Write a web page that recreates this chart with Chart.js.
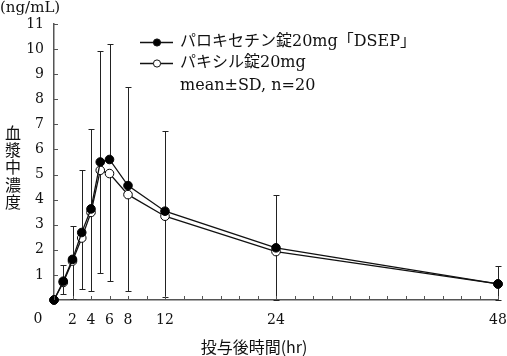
<!DOCTYPE html>
<html><head><meta charset="utf-8">
<script src="https://cdn.jsdelivr.net/npm/chart.js@4/dist/chart.umd.min.js"></script>
<style>html,body{margin:0;padding:0;background:#fff;}#wrap{width:507px;height:356px;position:relative;}</style>
</head><body><div id="wrap"><canvas id="c"></canvas></div>
<script>
// ---- data ----
const times = [0, 1, 2, 3, 4, 5, 6, 8, 12, 24, 48];
const dsepMean  = [0, 0.75, 1.62, 2.69, 3.63, 5.50, 5.60, 4.56, 3.54, 2.08, 0.64];
const paxilMean = [0, 0.70, 1.55, 2.47, 3.49, 5.17, 5.04, 4.20, 3.34, 1.93, 0.64];
const dsepUpper  = [0, 1.40, 2.93, 5.20, 6.80, 9.93, 10.20, 8.47, 6.72, 4.17, 1.37]; // mean + SD
const paxilLower = [0, 0.22, 0.03, 0.43, 0.37, 1.08, 0.76, 0.36, 0.10, 0, 0];       // mean - SD (clipped at 0)
const xTickMarks = [0,2,4,6,8,10,12,14,16,18,20,22,24,26,28,30,32,34,36,38,40,42,44,46,48];
const xTickLabels = [2, 4, 6, 8, 12, 24, 48];
const yTickValues = [1,2,3,4,5,6,7,8,9,10,11];
const seriesNames = ['パロキセチン錠20mg「DSEP」', 'パキシル錠20mg'];
const legendNote = 'mean±SD, n=20';
const yTitleUnit = '(ng/mL)';
const yTitleChars = ['血','漿','中','濃','度'];
const xTitle = '投与後時間(hr)';

const NUMFONT = '"DejaVu Serif", "Noto Sans CJK JP", serif';
const AXIS = '#555';
const INK = '#111';

const extras = {
  id: 'extras',
  beforeDatasetsDraw(chart) {
    const ctx = chart.ctx, xs = chart.scales.x, ys = chart.scales.y;
    ctx.save();
    ctx.strokeStyle = '#222';
    ctx.lineWidth = 1;
    times.forEach((t, i) => {
      const px = Math.round(xs.getPixelForValue(t)) + 0.5;
      if (dsepUpper[i] > dsepMean[i]) {
        const y0 = ys.getPixelForValue(dsepMean[i]), y1 = Math.round(ys.getPixelForValue(dsepUpper[i])) + 0.5;
        ctx.beginPath(); ctx.moveTo(px, y0); ctx.lineTo(px, y1);
        ctx.moveTo(px - 3, y1); ctx.lineTo(px + 3, y1); ctx.stroke();
      }
      if (paxilLower[i] < paxilMean[i]) {
        const y0 = ys.getPixelForValue(paxilMean[i]), y1 = Math.round(ys.getPixelForValue(paxilLower[i])) + 0.5;
        ctx.beginPath(); ctx.moveTo(px, y0); ctx.lineTo(px, y1);
        ctx.moveTo(px - 3, y1); ctx.lineTo(px + 3, y1); ctx.stroke();
      }
    });
    ctx.restore();
  },
  afterDraw(chart) {
    const ctx = chart.ctx, xs = chart.scales.x, ys = chart.scales.y, a = chart.chartArea;
    ctx.save();
    // inward ticks
    ctx.strokeStyle = AXIS; ctx.lineWidth = 1;
    yTickValues.forEach(v => {
      const py = Math.round(ys.getPixelForValue(v)) + 0.5;
      ctx.beginPath(); ctx.moveTo(a.left, py); ctx.lineTo(a.left + 4, py); ctx.stroke();
    });
    xTickMarks.forEach(v => {
      const px = Math.round(xs.getPixelForValue(v)) + 0.5;
      ctx.beginPath(); ctx.moveTo(px, a.bottom); ctx.lineTo(px, a.bottom - 4); ctx.stroke();
    });
    // origin label
    ctx.fillStyle = INK;
    ctx.font = '14px ' + NUMFONT;
    ctx.textAlign = 'center'; ctx.textBaseline = 'middle';
    ctx.fillText('0', xs.getPixelForValue(0) - 16, a.bottom + 19);
    // y title
    ctx.font = '15px ' + NUMFONT;
    ctx.textAlign = 'left';
    ctx.fillText(yTitleUnit, 0, 8);
    ctx.font = '16px "Noto Sans CJK JP"';
    ctx.textAlign = 'center';
    yTitleChars.forEach((ch, i) => ctx.fillText(ch, 13, 133 + i * 17.2));
    // x title
    ctx.font = '16px "Noto Sans CJK JP", ' + NUMFONT;
    ctx.fillText(xTitle, 254, 347);
    // legend
    const lx0 = 140, lx1 = 173, ldot = 157, tx = 180;
    const rows = [42, 63];
    rows.forEach((ry, i) => {
      const ds = chart.data.datasets[i];
      ctx.strokeStyle = INK; ctx.lineWidth = 1.3;
      ctx.beginPath(); ctx.moveTo(lx0, ry + 0.5); ctx.lineTo(lx1, ry + 0.5); ctx.stroke();
      ctx.beginPath(); ctx.arc(ldot, ry + 0.5, 3.6, 0, Math.PI * 2);
      ctx.fillStyle = ds.pointBackgroundColor; ctx.fill();
      ctx.lineWidth = 1; ctx.strokeStyle = INK; ctx.stroke();
      ctx.fillStyle = INK;
      ctx.font = '16px ' + NUMFONT;
      ctx.textAlign = 'left'; ctx.textBaseline = 'middle';
      ctx.fillText(ds.label, tx, ry);
    });
    ctx.fillText(legendNote, tx, 86);
    ctx.restore();
  }
};

new Chart(document.getElementById('c'), {
  type: 'line',
  data: {
    datasets: [
      {
        label: seriesNames[0],
        data: times.map((t, i) => ({ x: t, y: dsepMean[i] })),
        borderColor: INK, borderWidth: 1.3,
        pointBackgroundColor: '#000', pointBorderColor: '#000', pointBorderWidth: 1,
        pointRadius: 4.3, tension: 0, clip: false
      },
      {
        label: seriesNames[1],
        data: times.map((t, i) => ({ x: t, y: paxilMean[i] })),
        borderColor: INK, borderWidth: 1.3,
        pointBackgroundColor: '#fff', pointBorderColor: '#000', pointBorderWidth: 1,
        pointRadius: 4.3, tension: 0, clip: false
      }
    ]
  },
  options: {
    responsive: true, maintainAspectRatio: false, animation: false,
    devicePixelRatio: 1,
    layout: { padding: { top: 24, right: 9, left: 0, bottom: 0 } },
    plugins: { legend: { display: false }, tooltip: { enabled: false } },
    scales: {
      x: {
        type: 'linear', min: 0, max: 48,
        afterBuildTicks: s => { s.ticks = xTickMarks.map(v => ({ value: v })); },
        afterFit: s => { s.height = 56; s.paddingRight = 0; s.paddingLeft = 0; },
        grid: { display: false, drawTicks: false },
        border: { display: true, color: AXIS, width: 1.5 },
        ticks: {
          autoSkip: false, maxRotation: 0, padding: 12, color: INK,
          font: { family: NUMFONT, size: 14 },
          callback: v => xTickLabels.includes(v) ? String(v) : ''
        }
      },
      y: {
        type: 'linear', min: 0, max: 11,
        afterBuildTicks: s => { s.ticks = [0].concat(yTickValues).map(v => ({ value: v })); },
        afterFit: s => { s.width = 54; },
        grid: { display: false, drawTicks: false },
        border: { display: true, color: AXIS, width: 1.5 },
        ticks: {
          padding: 10, color: INK,
          font: { family: NUMFONT, size: 14 },
          callback: v => yTickValues.includes(v) ? String(v) : ''
        }
      }
    }
  },
  plugins: [extras]
});
</script>
</body></html>
